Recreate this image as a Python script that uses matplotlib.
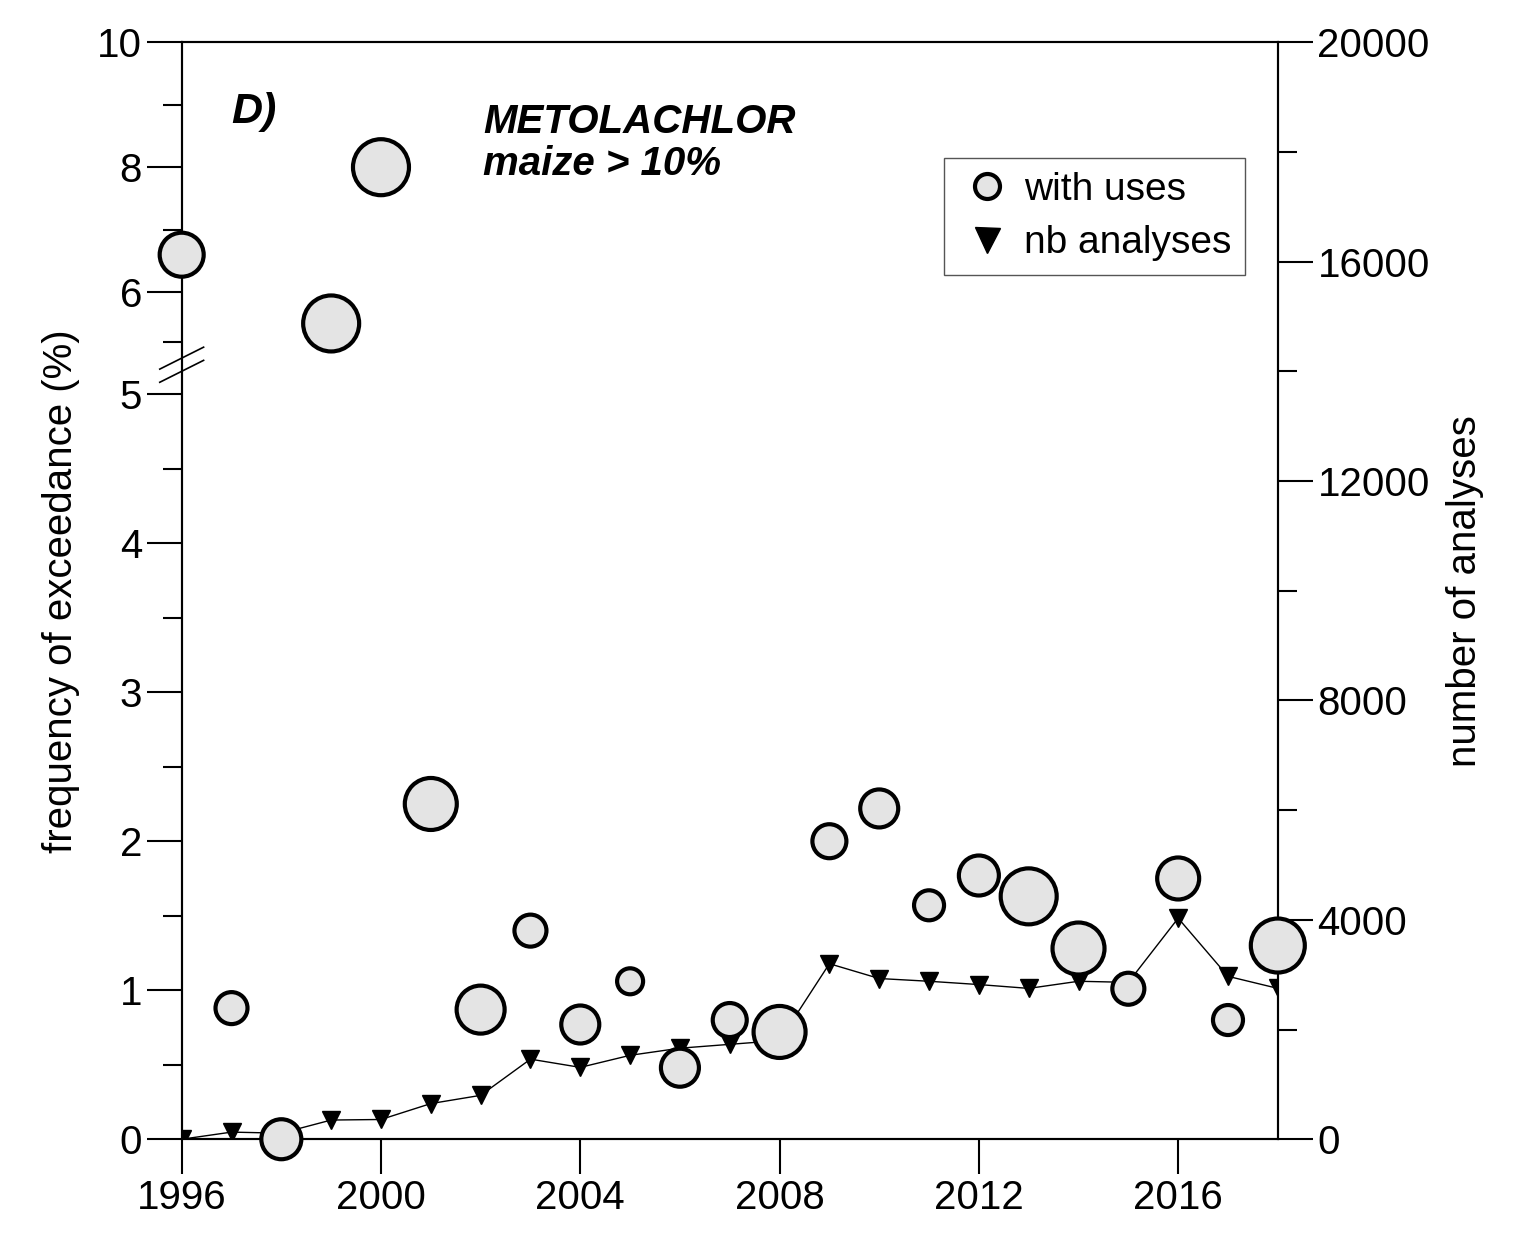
import numpy as np
import matplotlib.pyplot as plt
from matplotlib.lines import Line2D

plt.rcParams['font.family'] = ['Liberation Sans', 'DejaVu Sans']

years = np.arange(1996, 2019)
freq = [6.6, 0.88, 0.0, 5.5, 8.0, 2.25, 0.87, 1.4, 0.77, 1.06, 0.48, 0.8, 0.72,
        2.0, 2.22, 1.57, 1.77, 1.63, 1.28, 1.01, 1.75, 0.8, 1.3]
radius = [22, 16, 20, 28, 28, 26, 24, 16, 19, 13, 19, 17, 26,
          17, 19, 15, 20, 28, 26, 16, 21, 15, 27]
nb = [0, 130, 110, 350, 360, 650, 800, 1460, 1310, 1530, 1660, 1730, 1800,
      3200, 2930, 2880, 2820, 2750, 2880, 2860, 4030, 2970, 2750]

# broken left axis: 0-5 stretched, 5-10 compressed
def fwd(y):
    y = np.asarray(y, float)
    return np.where(y <= 5, 149 * y, 847 + (y - 6) * 62.5)

def inv(u):
    u = np.asarray(u, float)
    return np.where(u <= 745, u / 149, np.where(u >= 784.5, 6 + (u - 847) / 62.5, 5.0))

fig = plt.figure(figsize=(15.14, 12.41), dpi=100)
ax = fig.add_axes([0.120, 0.082, 0.724, 0.884])
ax.set_yscale('function', functions=(fwd, inv))
ax.set_xlim(1996, 2018)
ax.set_ylim(0, 10)
ax.set_yticks([0, 1, 2, 3, 4, 5, 6, 8, 10])
ax.set_yticks([0.5, 1.5, 2.5, 3.5, 4.5, 5.2, 7, 9], minor=True)
ax.set_xticks([1996, 2000, 2004, 2008, 2012, 2016])
ax.tick_params(axis='both', which='major', direction='out', length=25, width=1.5, labelsize=29)
ax.tick_params(axis='y', which='minor', direction='out', length=14, width=1.5)
ax.set_ylabel('frequency of exceedance (%)', fontsize=29, labelpad=12)

ax2 = ax.twinx()
ax2.set_ylim(0, 20000)
ax2.set_yticks([0, 4000, 8000, 12000, 16000, 20000])
ax2.set_yticks(np.arange(2000, 20000, 4000), minor=True)
ax2.tick_params(axis='y', which='major', direction='out', length=25, width=1.5, labelsize=29)
ax2.tick_params(axis='y', which='minor', direction='out', length=14, width=1.5)
ax2.set_ylabel('number of analyses', fontsize=29, labelpad=12)
ax2.plot(years, nb, color='black', lw=1, marker='v', ms=13, zorder=2)

# circles drawn on the left axis, kept above the line
ax.set_zorder(ax2.get_zorder() + 1)
ax.patch.set_visible(False)
sizes = [(2 * r * 0.72) ** 2 for r in radius]
ax.scatter(years, freq, s=sizes, facecolor='#e4e4e4', edgecolor='black', linewidths=3,
           zorder=3, clip_on=False)

for a in (ax, ax2):
    for s in a.spines.values():
        s.set_linewidth(1.5)

# break marks
for dy in (0, 0.012):
    ax.plot([-0.02, 0.02], [0.69 + dy, 0.71 + dy], transform=ax.transAxes,
            color='black', lw=1.2, clip_on=False)

ax.text(0.045, 0.955, 'D)', transform=ax.transAxes, fontsize=31, fontweight='bold',
        style='italic', va='top')
ax.text(0.275, 0.945, 'METOLACHLOR\nmaize > 10%', transform=ax.transAxes, fontsize=29,
        fontweight='bold', style='italic', va='top', linespacing=1.15)

handles = [Line2D([], [], ls='none', marker='o', ms=18, mfc='#e4e4e4', mec='black', mew=3),
           Line2D([], [], ls='none', marker='v', ms=18, color='black')]
ax.legend(handles, ['with uses', 'nb analyses'], loc='upper right', bbox_to_anchor=(0.9875, 0.912),
          fontsize=28, fancybox=False, edgecolor='#555555', framealpha=1, handletextpad=0.2,
          handlelength=1.5, borderpad=0.35, labelspacing=0.45)

fig.savefig('out.png')
